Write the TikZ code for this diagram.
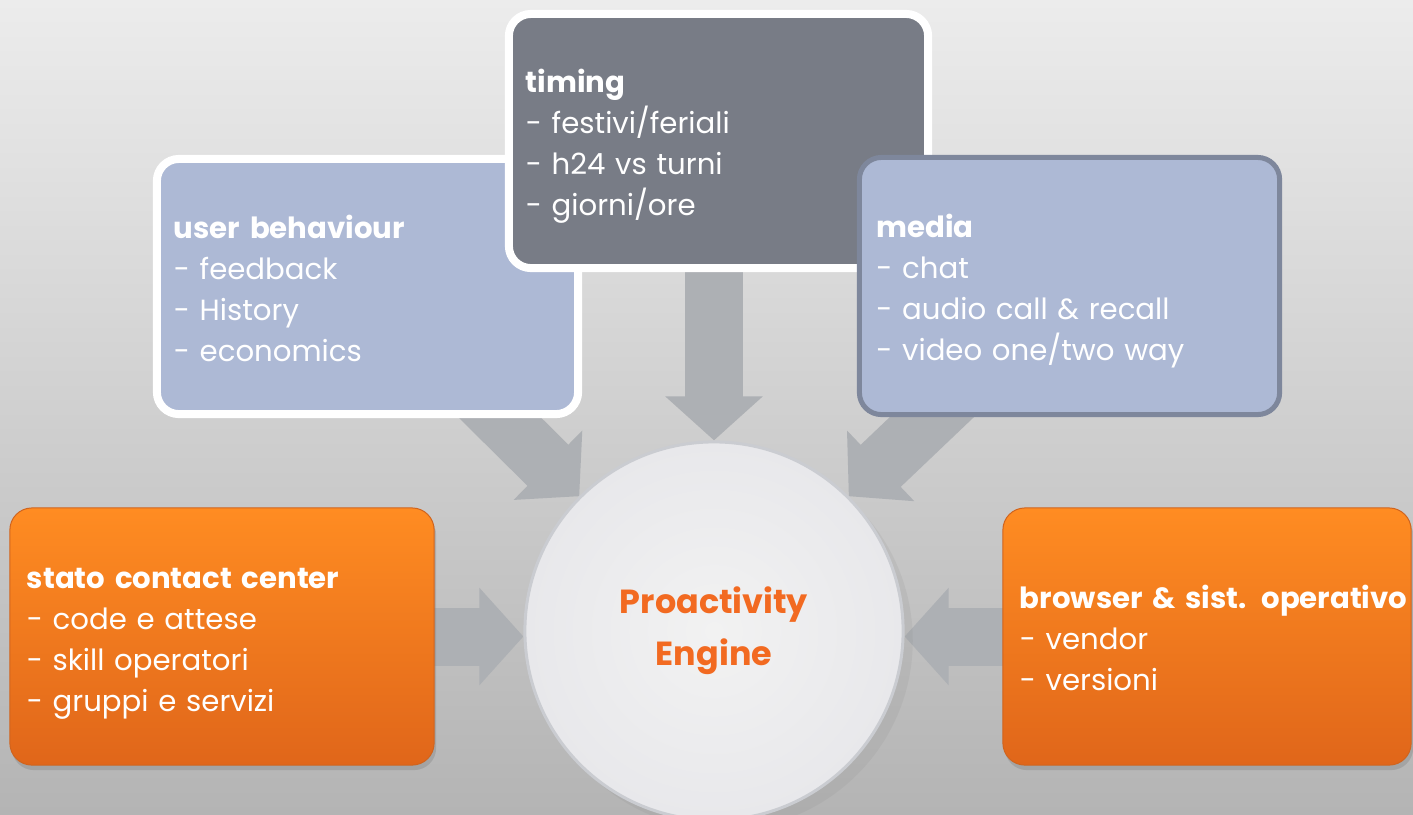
\documentclass[tikz,border=0pt]{standalone}
\usepackage{fontspec}
\setmainfont{Poppins}
\usetikzlibrary{arrows.meta, positioning, shadows}

\definecolor{bgtop}{HTML}{ECECEC}
\definecolor{bgbottom}{HTML}{B4B4B4}
\definecolor{cardblue}{HTML}{ADB9D5}
\definecolor{cardgray}{HTML}{787C86}
\definecolor{mediaedge}{HTML}{7E879C}
\definecolor{orangetop}{HTML}{FF8C22}
\definecolor{orangebottom}{HTML}{E0661A}
\definecolor{orangeedge}{HTML}{D0641E}
\definecolor{arrowgray}{HTML}{ADB0B4}
\definecolor{enginetext}{HTML}{F26A21}
\definecolor{engineinner}{HTML}{F2F2F2}
\definecolor{engineouter}{HTML}{E8E8EB}
\definecolor{rimgray}{HTML}{CACCD1}

\pgfdeclarelayer{back}
\pgfdeclarelayer{arrows}
\pgfsetlayers{back,arrows,main}

\begin{document}
\begin{tikzpicture}[
    x=0.01cm, y=-0.01cm,
    card/.style={rectangle, rounded corners=0.22cm, align=left,
        inner xsep=0.17cm, inner ysep=0pt, text=white,
        font=\fontsize{8.3}{11.66}\selectfont,
        execute at begin node={\rule{0pt}{\dimexpr 0.7\baselineskip+2.8pt\relax}},
        execute at end node={\strut}},
    bluecard/.style={card, fill=cardblue},
    orangecard/.style={card, top color=orangetop, bottom color=orangebottom,
        draw=orangeedge, line width=0.01cm,
        drop shadow={shadow xshift=0.02cm, shadow yshift=-0.05cm, opacity=0.35}},
    engine/.style={circle, minimum size=3.78cm, inner sep=0pt,
        inner color=engineinner, outer color=engineouter,
        draw=rimgray, line width=0.03cm, align=center, text=enginetext,
        font=\fontsize{9.5}{14.8}\selectfont\bfseries},
    bigarrow/.style={draw=arrowgray, line width=0.58cm,
        -{Triangle[width=0.95cm, length=0.44cm]}},
]

    \begin{pgfonlayer}{back}
        \fill[top color=bgtop, bottom color=bgbottom] (0,0) rectangle (1413,814);
    \end{pgfonlayer}
    \useasboundingbox (0,0) rectangle (1413,814);
    \clip (0,0) rectangle (1413,814);

    % upper row
    \node[bluecard, draw=white, line width=0.08cm, text width=3.87cm,
          minimum height=2.55cm] (user) at (367.5,286.5)
        {\textbf{user behaviour}\\- feedback\\- History\\- economics};
    \node[card, fill=cardgray, draw=white, line width=0.08cm, text width=3.85cm,
          minimum height=2.54cm] (timing) at (718.5,141)
        {\textbf{timing}\\- festivi/feriali\\- h24 vs turni\\- giorni/ore};
    \node[bluecard, draw=mediaedge, line width=0.05cm, text width=3.86cm,
          minimum height=2.57cm] (media) at (1069.5,286)
        {\textbf{media}\\- chat\\- audio call \& recall\\- video one/two way};

    % lower row
    \node[orangecard, text width=3.90cm, minimum height=2.57cm] (stato) at (222,636.5)
        {\textbf{stato contact center}\\- code e attese\\- skill operatori\\- gruppi e servizi};
    \node[orangecard, text width=3.74cm, minimum height=2.57cm] (browser) at (1207,636.5)
        {\mbox{\textbf{browser \& sist. operativo}}\\- vendor\\- versioni};

    \node[engine, drop shadow={opacity=0.12}] (engine) at (714,631) {Proactivity\\Engine};

    \begin{pgfonlayer}{arrows}
        \path
            (engine.north |- timing.center) edge [bigarrow] (engine.north)
            (user.center)    edge [bigarrow] (engine.north west)
            (media.center)   edge [bigarrow] (engine.north east)
            (stato.center)   edge [bigarrow] (stato.center -| engine.west)
            (browser.center) edge [bigarrow] (browser.center -| engine.east)
        ;
    \end{pgfonlayer}
\end{tikzpicture}
\end{document}
